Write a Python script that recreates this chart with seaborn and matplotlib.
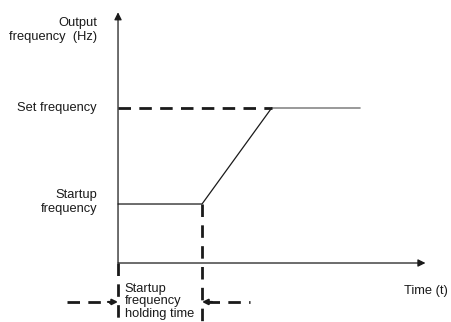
import numpy as np
import pandas as pd
import matplotlib
matplotlib.use("Agg")
import matplotlib.pyplot as plt
import seaborn as sns

# --- data (time in hold-time units, frequency in startup-frequency units) ---
HOLD_TIME = 1.0
ACCEL_END = 1.83
RUN_END = 2.88
STARTUP_FREQ = 1.0
SET_FREQ = 2.63

curve_t = [0.0, HOLD_TIME, ACCEL_END]
curve_f = [STARTUP_FREQ, STARTUP_FREQ, SET_FREQ]
run_t = [ACCEL_END, RUN_END]
run_f = [SET_FREQ, SET_FREQ]
set_ref_t = [0.0, ACCEL_END]
set_ref_f = [SET_FREQ, SET_FREQ]

sns.set_theme(style="white")
plt.rcParams['font.family'] = ['Liberation Sans', 'DejaVu Sans']

fig = plt.figure(figsize=(4.51, 3.22), dpi=100)
ax = fig.add_axes([0, 0, 1, 1])
ax.set_xlim(-1.405, 3.964)
ax.set_ylim(-1.0, 4.458)
ax.axis("off")

ink = "#1a1a1a"
dash = dict(color=ink, lw=2.0, dashes=(4.5, 3.0))

# axes with arrows
ax.annotate("", xy=(3.66, 0), xytext=(0, 0),
            arrowprops=dict(arrowstyle="-|>", color=ink, lw=0.9,
                            mutation_scale=11, shrinkA=0, shrinkB=0))
ax.annotate("", xy=(0, 4.25), xytext=(0, 0),
            arrowprops=dict(arrowstyle="-|>", color=ink, lw=0.9,
                            mutation_scale=11, shrinkA=0, shrinkB=0))

# frequency curve
df = pd.DataFrame({"t": curve_t, "f": curve_f})
sns.lineplot(data=df, x="t", y="f", sort=False, color=ink, lw=0.9, ax=ax)
sns.lineplot(x=run_t, y=run_f, sort=False, color="#888888", lw=1.2, ax=ax)
ax.plot(set_ref_t, set_ref_f, **dash)

# vertical dashed markers
ax.plot([HOLD_TIME, HOLD_TIME], [STARTUP_FREQ, -1.0], **dash)
ax.plot([0, 0], [0, -1.0], **dash)

# holding time arrows
arr_y = -0.66
ax.plot([-0.61, -0.06], [arr_y, arr_y], **dash)
ax.plot([1.06, 1.57], [arr_y, arr_y], **dash)
ax.annotate("", xy=(0, arr_y), xytext=(-0.12, arr_y),
            arrowprops=dict(arrowstyle="-|>", color=ink, lw=1.5,
                            mutation_scale=8, shrinkA=0, shrinkB=0))
ax.annotate("", xy=(HOLD_TIME, arr_y), xytext=(HOLD_TIME + 0.12, arr_y),
            arrowprops=dict(arrowstyle="-|>", color=ink, lw=1.5,
                            mutation_scale=8, shrinkA=0, shrinkB=0))

fs = 9.3
ax.text(-0.25, 3.95, "Output\nfrequency  (Hz)", ha="right", va="center",
        fontsize=fs, color=ink, linespacing=1.2)
ax.text(-0.25, SET_FREQ, "Set frequency", ha="right", va="center",
        fontsize=fs, color=ink)
ax.text(-0.25, 1.03, "Startup\nfrequency", ha="right", va="center",
        fontsize=fs, color=ink, linespacing=1.2)
ax.text(0.08, -0.645, "Startup\nfrequency\nholding time", ha="left", va="center",
        fontsize=fs, color=ink, linespacing=1.05)
ax.text(3.93, -0.475, "Time (t)", ha="right", va="center",
        fontsize=fs, color=ink)

fig.savefig("out.png", dpi=100)
